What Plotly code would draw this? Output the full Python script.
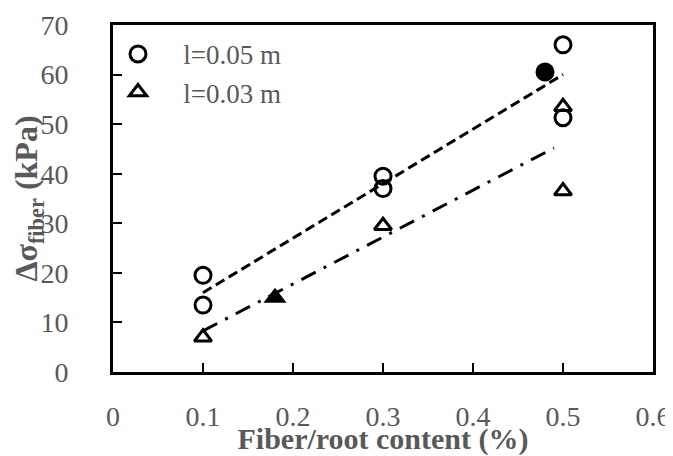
import plotly.graph_objects as go

# Data
x05 = [0.1, 0.1, 0.3, 0.3, 0.5, 0.5]
y05 = [19.5, 13.5, 39.5, 37.0, 66.0, 51.3]
x03 = [0.1, 0.3, 0.5, 0.5]
y03 = [7.0, 29.5, 53.5, 36.5]
x05_filled = [0.48]
y05_filled = [60.5]
x03_filled = [0.18]
y03_filled = [15.0]
fit05_x = [0.1, 0.5]
fit05_y = [16.0, 60.0]
fit03_x = [0.1, 0.49]
fit03_y = [8.3, 45.2]

x_ticks = [0, 0.1, 0.2, 0.3, 0.4, 0.5, 0.6]
x_ticklabels = ["0", "0.1", "0.2", "0.3", "0.4", "0.5", "0.6"]
y_ticks = [0, 10, 20, 30, 40, 50, 60, 70]
y_ticklabels = ["0", "10", "20", "30", "40", "50", "60", "70"]
series_names = ["l=0.05 m", "l=0.03 m"]

FONT = "Liberation Serif"
GRAY = "#595959"
PAD = "\u00a0\u00a0\u00a0"

fig = go.Figure()
fig.add_trace(go.Scatter(x=fit05_x, y=fit05_y, mode="lines", showlegend=False,
                         line=dict(color="black", width=3, dash="10px,5px")))
fig.add_trace(go.Scatter(x=fit03_x, y=fit03_y, mode="lines", showlegend=False,
                         line=dict(color="black", width=3, dash="16px,9px,3px,9px")))
fig.add_trace(go.Scatter(x=x05, y=y05, mode="markers", name=PAD + series_names[0], legendgroup="a",
                         marker=dict(symbol="circle-open", size=16, color="black",
                                     line=dict(width=3, color="black"))))
fig.add_trace(go.Scatter(x=x03, y=y03, mode="markers", name=PAD + series_names[1], legendgroup="b",
                         marker=dict(symbol="triangle-up-open", size=15, color="black",
                                     line=dict(width=3, color="black"))))
fig.add_trace(go.Scatter(x=x05_filled, y=y05_filled, mode="markers", showlegend=False,
                         marker=dict(symbol="circle", size=19, color="black")))
fig.add_trace(go.Scatter(x=x03_filled, y=y03_filled, mode="markers", showlegend=False,
                         marker=dict(symbol="triangle-up", size=20, color="black")))

tickfont = dict(family=FONT, size=28, color=GRAY)
axis_common = dict(showline=True, linecolor="black", linewidth=3, mirror=True,
                   ticks="inside", ticklen=9, tickwidth=2, tickcolor="black",
                   showgrid=False, zeroline=False, automargin=False, tickfont=tickfont)

# the page body adds an 8px offset, so the figure is 8px smaller and margins shifted
fig.update_layout(
    template="none",
    width=665, height=448,
    margin=dict(l=105, r=20, t=17, b=84),
    font=dict(family=FONT, color=GRAY),
    xaxis=dict(range=[0, 0.6], tickvals=x_ticks, ticktext=x_ticklabels,
               ticklabelstandoff=17,
               title=dict(text="<b>Fiber/root content (%)</b>", standoff=12,
                          font=dict(family=FONT, size=30, color=GRAY)),
               **axis_common),
    yaxis=dict(range=[0, 70], tickvals=y_ticks, ticktext=y_ticklabels,
               ticklabelstandoff=36,
               title=dict(text="<b>Δσ<sub>fiber</sub> (kPa)</b>", standoff=4,
                          font=dict(family=FONT, size=32, color=GRAY)),
               **axis_common),
    legend=dict(x=0.0, y=0.986, xanchor="left", yanchor="top", bgcolor="rgba(0,0,0,0)",
                font=dict(family=FONT, size=27, color=GRAY), tracegroupgap=0,
                traceorder="grouped", itemwidth=40),
)

fig.write_html("out.html")
